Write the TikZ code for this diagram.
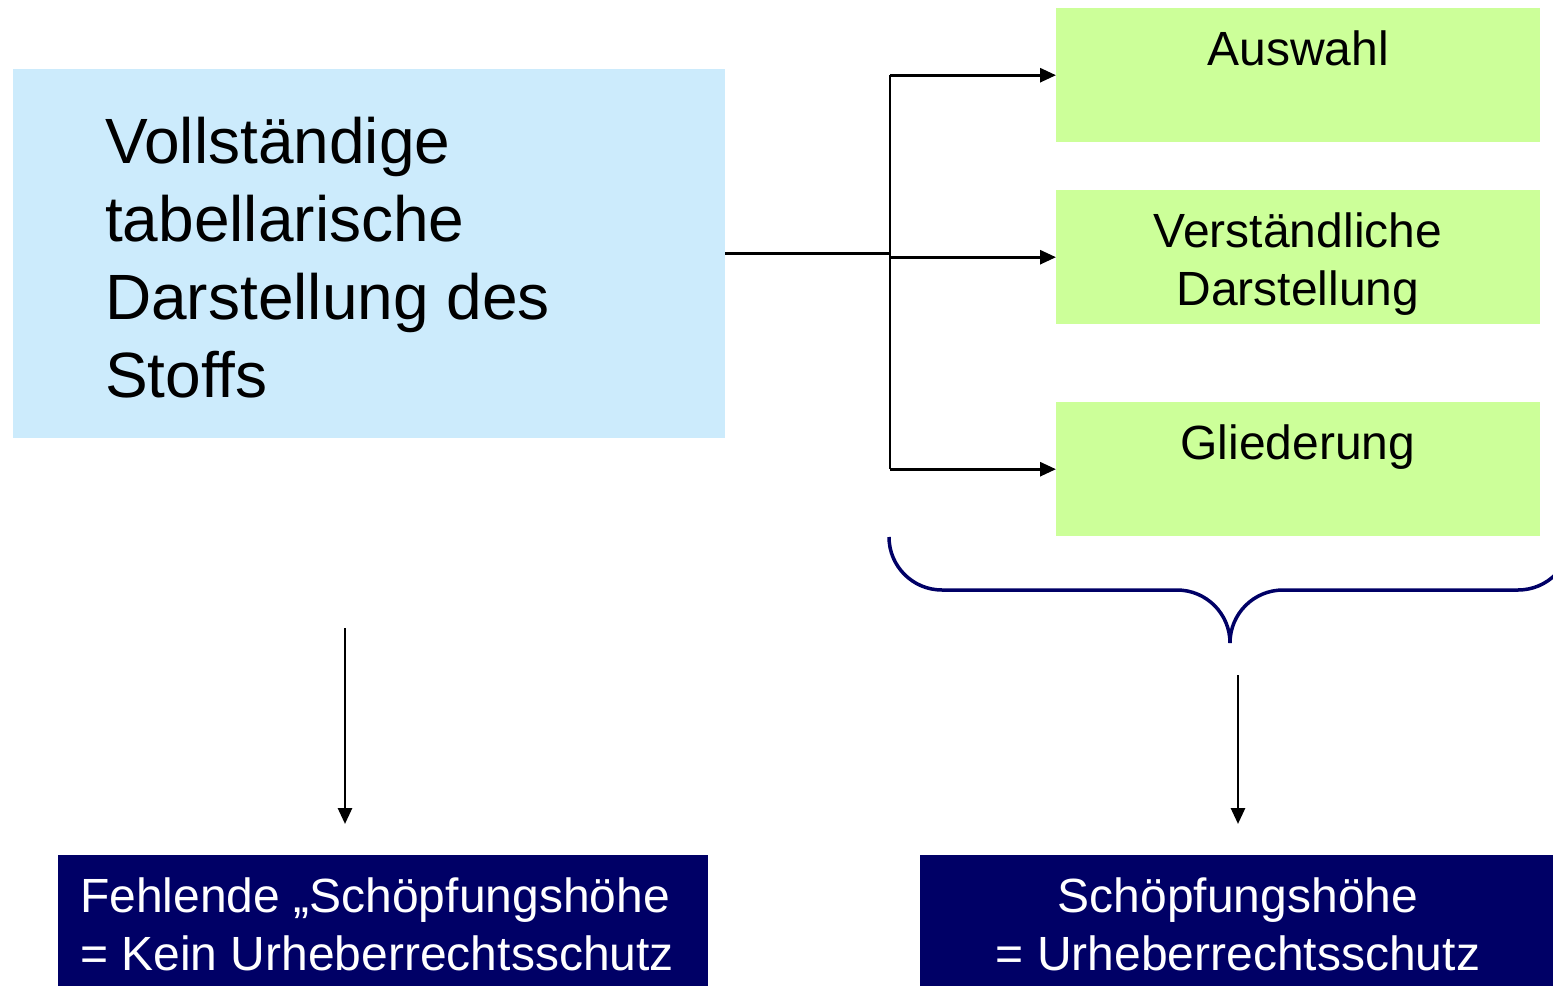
\documentclass[tikz,border=0pt]{standalone}
\usepackage{fontspec}
\setmainfont{Liberation Sans}
\usetikzlibrary{arrows.meta}
\definecolor{lblue}{HTML}{CCEBFC}
\definecolor{lgreen}{HTML}{CCFF99}
\definecolor{navy}{HTML}{000066}
\begin{document}
\begin{tikzpicture}[x=1pt,y=-1pt,
  greenbox/.style={fill=lgreen,draw=none,minimum width=484pt,minimum height=134pt,inner sep=0pt,anchor=north west},
  navybox/.style={fill=navy,draw=none,inner sep=0pt,anchor=north west},
  gtext/.style={font=\fontsize{48}{58}\selectfont,align=center,inner sep=0pt,anchor=base},
  wtext/.style={text=white,font=\fontsize{48}{58}\selectfont,inner sep=0pt,anchor=base},
  conn/.style={line width=2.8pt,draw=black},
  arr/.style={conn,-{Triangle[length=16pt,width=14pt]}},
  bracestyle/.style={line width=3.5pt,draw=navy,rounded corners=53pt}
]
\clip (0,0) rectangle (1553,986);
% main blue box
\node[fill=lblue,draw=none,minimum width=712pt,minimum height=369pt,inner sep=0pt,anchor=north west] (b) at (13,69) {};
\node[font=\fontsize{64}{78}\selectfont,align=left,inner sep=0pt,anchor=base west] (bt) at (105,397)
  {Vollständige\\tabellarische\\Darstellung des\\Stoffs};
% green boxes
\node[greenbox] (g1) at (1056,8) {};
\node[greenbox] (g2) at (1056,190) {};
\node[greenbox] (g3) at (1056,402) {};
\node[gtext] (g1t) at (1298,65) {Auswahl};
\node[gtext] (g2t) at (1298,305) {Verständliche\\Darstellung};
\node[gtext] (g3t) at (1298,459) {Gliederung};
% connectors
\coordinate (jx) at (890,0);
\draw[conn] (b.east) -- (b.east -| jx);
\draw[conn] (jx |- g1.west) -- (jx |- g3.west);
\draw[arr] (jx |- g1.west) -- (g1.west);
\draw[arr] (jx |- g2.west) -- (g2.west);
\draw[arr] (jx |- g3.west) -- (g3.west);
% brace
\coordinate (brL) at (889,537);
\coordinate (brM) at (1230,590);
\coordinate (brT) at (1230,643);
\coordinate (brR) at (1571,537);
\draw[bracestyle] (brL) |- (brM) -- (brT);
\draw[bracestyle] (brT) -- (brM) -| (brR);
% bottom boxes
\node[navybox,minimum width=650pt,minimum height=131pt] (n1) at (58,855) {};
\node[navybox,minimum width=633pt,minimum height=131pt] (n2) at (920,855) {};
\node[wtext,align=left,anchor=base west] (n1t) at (80,970) {Fehlende „Schöpfungshöhe\\= Kein Urheberrechtsschutz};
\node[wtext,align=center] (n2t) at (1238,970) {Schöpfungshöhe\\= Urheberrechtsschutz};
% down arrows
\coordinate (a1s) at (345,628);
\coordinate (a1e) at (345,824);
\coordinate (a2s) at (1238,675);
\coordinate (a2e) at (1238,824);
\draw[arr] (a1s) -- (a1e);
\draw[arr] (a2s) -- (a2e);
\end{tikzpicture}
\end{document}
